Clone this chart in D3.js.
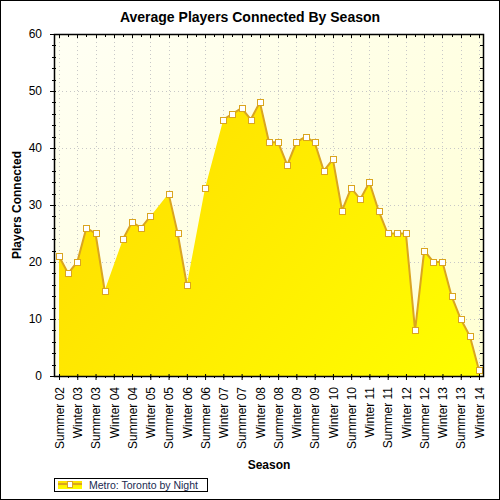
<!DOCTYPE html>
<html>
<head>
<meta charset="utf-8">
<script src="https://cdn.jsdelivr.net/npm/d3@7"></script>
<style>
  body { margin: 0; background: #fff; }
  text { font-family: Arial, "Liberation Sans", sans-serif; }
</style>
</head>
<body>
<div id="chart"></div>
<script>
// quarterly seasons, only every other one gets a label on the axis
var seasons = [
  "Summer 02", "Fall 02", "Winter 03", "Spring 03", "Summer 03", "Fall 03",
  "Winter 04", "Spring 04", "Summer 04", "Fall 04", "Winter 05", "Spring 05",
  "Summer 05", "Fall 05", "Winter 06", "Spring 06", "Summer 06", "Fall 06",
  "Winter 07", "Spring 07", "Summer 07", "Fall 07", "Winter 08", "Spring 08",
  "Summer 08", "Fall 08", "Winter 09", "Spring 09", "Summer 09", "Fall 09",
  "Winter 10", "Spring 10", "Summer 10", "Fall 10", "Winter 11", "Spring 11",
  "Summer 11", "Fall 11", "Winter 12", "Spring 12", "Summer 12", "Fall 12",
  "Winter 13", "Spring 13", "Summer 13", "Fall 13", "Winter 14"
];
var labelledSeasons = seasons.filter(function (d, i) { return i % 2 === 0; });

// average players, null = no data for that quarter
var players = [
  21, 18, 20, 26, 25, 15, null, 24, 27, 26, 28, null,
  32, 25, 16, null, 33, null, 45, 46, 47, 45, 48, 41,
  41, 37, 41, 42, 41, 36, 38, 29, 33, 31, 34, 29,
  25, 25, 25, 8, 22, 20, 20, 14, 10, 7, 1
];

var yTicks = [0, 10, 20, 30, 40, 50, 60];
var seriesName = "Metro: Toronto by Night";

var W = 500, H = 500;
var margin = { top: 34, right: 16, bottom: 124, left: 54 },
  width = W - margin.left - margin.right,
  height = H - margin.top - margin.bottom;

var svgRoot = d3.select("#chart").append("svg")
  .attr("width", W)
  .attr("height", H);

// gradients
var defs = svgRoot.append("defs");
var bgGrad = defs.append("linearGradient").attr("id", "bgGrad")
  .attr("x1", "0%").attr("y1", "0%").attr("x2", "100%").attr("y2", "100%");
bgGrad.append("stop").attr("offset", "0%").attr("stop-color", "#fffff4");
bgGrad.append("stop").attr("offset", "100%").attr("stop-color", "#ffffd2");

var areaGrad = defs.append("linearGradient").attr("id", "areaGrad")
  .attr("gradientUnits", "userSpaceOnUse")
  .attr("x1", 0).attr("y1", 0).attr("x2", width).attr("y2", height);
areaGrad.append("stop").attr("offset", "0%").attr("stop-color", "#ffd800");
areaGrad.append("stop").attr("offset", "100%").attr("stop-color", "#ffff00");

var legGrad = defs.append("linearGradient").attr("id", "legGrad")
  .attr("x1", "0%").attr("y1", "0%").attr("x2", "0%").attr("y2", "100%");
legGrad.append("stop").attr("offset", "0%").attr("stop-color", "#ffe000");
legGrad.append("stop").attr("offset", "100%").attr("stop-color", "#ffff00");

// outer frame
svgRoot.append("rect")
  .attr("x", 0.5).attr("y", 0.5)
  .attr("width", W - 1).attr("height", H - 1)
  .attr("fill", "#fff").attr("stroke", "#000");

// title
svgRoot.append("text")
  .attr("x", 250).attr("y", 22)
  .attr("text-anchor", "middle")
  .style("font-size", "14px").style("font-weight", "bold")
  .text("Average Players Connected By Season");

var svg = svgRoot.append("g")
  .attr("transform", "translate(" + margin.left + "," + margin.top + ")");

// scales
var x = d3.scaleLinear()
  .domain([-0.55, seasons.length - 0.45])
  .range([0, width]);
var y = d3.scaleLinear()
  .domain([0, 60])
  .range([height, 0]);

// plot background
svg.append("rect")
  .attr("width", width).attr("height", height)
  .attr("fill", "url(#bgGrad)");

// dotted grid
svg.append("g").selectAll("line")
  .data(yTicks.slice(1, -1))
  .enter().append("line")
  .attr("x1", 0).attr("x2", width)
  .attr("y1", function (d) { return Math.round(y(d)) + 0.5; })
  .attr("y2", function (d) { return Math.round(y(d)) + 0.5; })
  .attr("stroke", "#c8c8c8").attr("stroke-dasharray", "1,3");
svg.append("g").selectAll("line")
  .data(labelledSeasons)
  .enter().append("line")
  .attr("x1", function (d) { return Math.round(x(seasons.indexOf(d))) + 0.5; })
  .attr("x2", function (d) { return Math.round(x(seasons.indexOf(d))) + 0.5; })
  .attr("y1", 0).attr("y2", height)
  .attr("stroke", "#c8c8c8").attr("stroke-dasharray", "1,3");

// area + line
var pts = players.map(function (v, i) { return { i: i, v: v }; });
var defined = pts.filter(function (d) { return d.v !== null; });

var area = d3.area()
  .x(function (d) { return x(d.i); })
  .y0(height)
  .y1(function (d) { return y(d.v); });
svg.append("path")
  .datum(defined)
  .attr("d", area)
  .attr("fill", "url(#areaGrad)");

var line = d3.line()
  .defined(function (d) { return d.v !== null; })
  .x(function (d) { return x(d.i); })
  .y(function (d) { return y(d.v); });
svg.append("path")
  .datum(pts)
  .attr("d", line)
  .attr("fill", "none")
  .attr("stroke", "#daa520")
  .attr("stroke-width", 2);

svg.append("g").selectAll("rect")
  .data(defined)
  .enter().append("rect")
  .attr("x", function (d) { return Math.round(x(d.i)) - 3 + 0.5; })
  .attr("y", function (d) { return Math.round(y(d.v)) - 3 + 0.5; })
  .attr("width", 6).attr("height", 6)
  .attr("fill", "#fff")
  .attr("stroke", "#daa520");

// axes
var minorY = d3.range(0, 61, 2);
var yAxis = d3.axisLeft(y).tickValues(yTicks).tickSize(4).tickPadding(8);
var gy = svg.append("g").call(yAxis);
gy.select(".domain").remove();
gy.selectAll(".tick line").attr("x2", -4).attr("x1", 2);
gy.selectAll("text").style("font-size", "12px").attr("fill", "#000");
svg.append("g").selectAll("line")
  .data(minorY)
  .enter().append("line")
  .attr("x1", -2).attr("x2", 2)
  .attr("y1", function (d) { return Math.round(y(d)) + 0.5; })
  .attr("y2", function (d) { return Math.round(y(d)) + 0.5; })
  .attr("stroke", "#000");
// right side ticks
svg.append("g").selectAll("line")
  .data(minorY)
  .enter().append("line")
  .attr("x1", width - 4).attr("x2", width)
  .attr("y1", function (d) { return Math.round(y(d)) + 0.5; })
  .attr("y2", function (d) { return Math.round(y(d)) + 0.5; })
  .attr("stroke", "#000");

var xAxis = d3.axisBottom(x)
  .tickValues(labelledSeasons.map(function (d) { return seasons.indexOf(d); }))
  .tickFormat(function (i) { return seasons[i]; })
  .tickSize(4);
var gx = svg.append("g")
  .attr("transform", "translate(0," + height + ")")
  .call(xAxis);
gx.select(".domain").remove();
gx.selectAll(".tick line").attr("y1", -2);
gx.selectAll("text")
  .style("font-size", "12px").attr("fill", "#000")
  .attr("text-anchor", "end")
  .attr("transform", "rotate(-90)")
  .attr("x", -11).attr("y", 0).attr("dy", "0.35em");
// minor x ticks bottom and top
svg.append("g").selectAll("line")
  .data(seasons)
  .enter().append("line")
  .attr("x1", function (d, i) { return Math.round(x(i)) + 0.5; })
  .attr("x2", function (d, i) { return Math.round(x(i)) + 0.5; })
  .attr("y1", height).attr("y2", height + 2)
  .attr("stroke", "#000");
svg.append("g").selectAll("line")
  .data(seasons)
  .enter().append("line")
  .attr("x1", function (d, i) { return Math.round(x(i)) + 0.5; })
  .attr("x2", function (d, i) { return Math.round(x(i)) + 0.5; })
  .attr("y1", 0).attr("y2", function (d, i) { return i % 2 === 0 ? 4 : 3; })
  .attr("stroke", "#000");

// plot frame
svg.append("rect")
  .attr("x", 0.5).attr("y", 0.5)
  .attr("width", width - 1).attr("height", height)
  .attr("fill", "none").attr("stroke", "#000").attr("stroke-width", 1.5);

// axis titles
svgRoot.append("text")
  .attr("transform", "translate(21," + (margin.top + height / 2) + ") rotate(-90)")
  .attr("text-anchor", "middle")
  .style("font-size", "12px").style("font-weight", "bold")
  .text("Players Connected");
svgRoot.append("text")
  .attr("x", margin.left + width / 2).attr("y", 469)
  .attr("text-anchor", "middle")
  .style("font-size", "12px").style("font-weight", "bold")
  .text("Season");

// legend
var leg = svgRoot.append("g");
leg.append("rect")
  .attr("x", 54.5).attr("y", 478.5).attr("width", 153).attr("height", 13)
  .attr("fill", "#fff").attr("stroke", "#000");
leg.append("rect")
  .attr("x", 58).attr("y", 481).attr("width", 24).attr("height", 8)
  .attr("fill", "url(#legGrad)");
leg.append("line")
  .attr("x1", 58).attr("x2", 82).attr("y1", 484).attr("y2", 484)
  .attr("stroke", "#daa520").attr("stroke-width", 2);
leg.append("rect")
  .attr("x", 67.5).attr("y", 481.5).attr("width", 5).attr("height", 6)
  .attr("fill", "#fff").attr("stroke", "#daa520");
leg.append("text")
  .attr("x", 89).attr("y", 489)
  .style("font-size", "10.5px").attr("fill", "#1a2a50")
  .text(seriesName);
</script>
</body>
</html>
